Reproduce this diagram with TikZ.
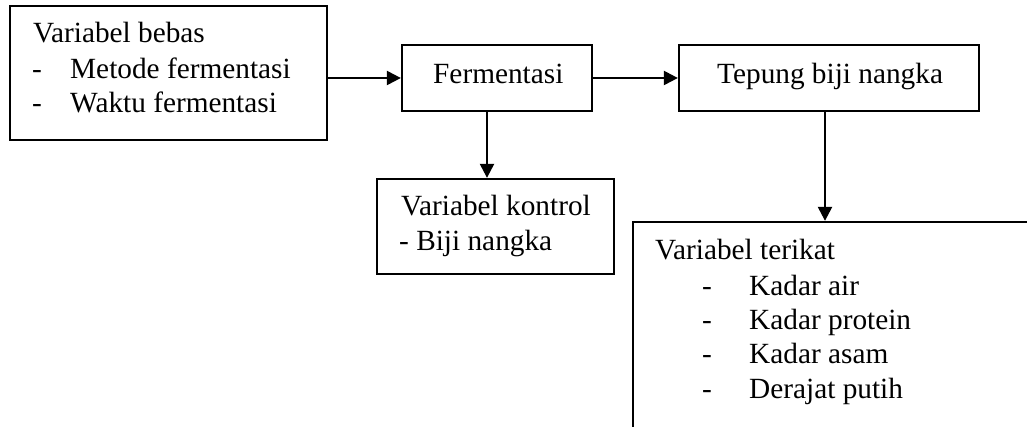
\documentclass[tikz,border=0pt]{standalone}
\usepackage{fontspec}
\setmainfont{Liberation Serif}
\usetikzlibrary{arrows.meta}
\begin{document}
\begin{tikzpicture}[x=1pt,y=-1pt,
  box/.style={draw,line width=2.3pt,inner sep=0pt},
  txt/.style={anchor=base west,inner sep=0pt,font=\fontsize{29.3}{34}\selectfont},
  arr/.style={line width=2.3pt,-{Triangle[length=14pt,width=14pt]}}]
\useasboundingbox (0,0) rectangle (1027,427);
\clip (0,0) rectangle (1027,427);
% boxes
\node[box,minimum width=317pt,minimum height=134pt] (bebas) at (168.5,73) {};
\node[box,minimum width=190pt,minimum height=66pt] (ferm) at (497,78) {};
\node[box,minimum width=300pt,minimum height=66pt] (tepung) at (829,78) {};
\node[box,minimum width=237pt,minimum height=95pt] (kontrol) at (495.5,226.5) {};
\node[box,minimum width=440pt,minimum height=260pt] (terikat) at (853,352) {};
% texts
\node[txt] (t1) at (33,43) {Variabel bebas};
\node[txt] (t2) at (32,79) {-};
\node[txt] (t3) at (70,79) {Metode fermentasi};
\node[txt] (t4) at (32,113) {-};
\node[txt] (t5) at (70,113) {Waktu fermentasi};
\node[txt] (t6) at (433,84) {Fermentasi};
\node[txt] (t7) at (717,84) {Tepung biji nangka};
\node[txt] (t8) at (401,216) {Variabel kontrol};
\node[txt] (t9) at (399,251) {- Biji nangka};
\node[txt] (t10) at (655,260) {Variabel terikat};
\node[txt] (d1) at (702,295) {-};
\node[txt] (k1) at (749,295) {Kadar air};
\node[txt] (d2) at (702,329) {-};
\node[txt] (k2) at (749,329) {Kadar protein};
\node[txt] (d3) at (702,363) {-};
\node[txt] (k3) at (749,363) {Kadar asam};
\node[txt] (d4) at (702,398) {-};
\node[txt] (k4) at (749,398) {Derajat putih};
% connectors
\draw[arr] (ferm.west -| bebas.east) -- (ferm.west);
\draw[arr] (ferm.east) -- (tepung.west);
\draw[arr] ([xshift=-10pt]ferm.south) -- ([xshift=-10pt]ferm.south |- kontrol.north);
\draw[arr] ([xshift=-4pt]tepung.south) -- ([xshift=-4pt]tepung.south |- terikat.north);
\end{tikzpicture}
\end{document}
